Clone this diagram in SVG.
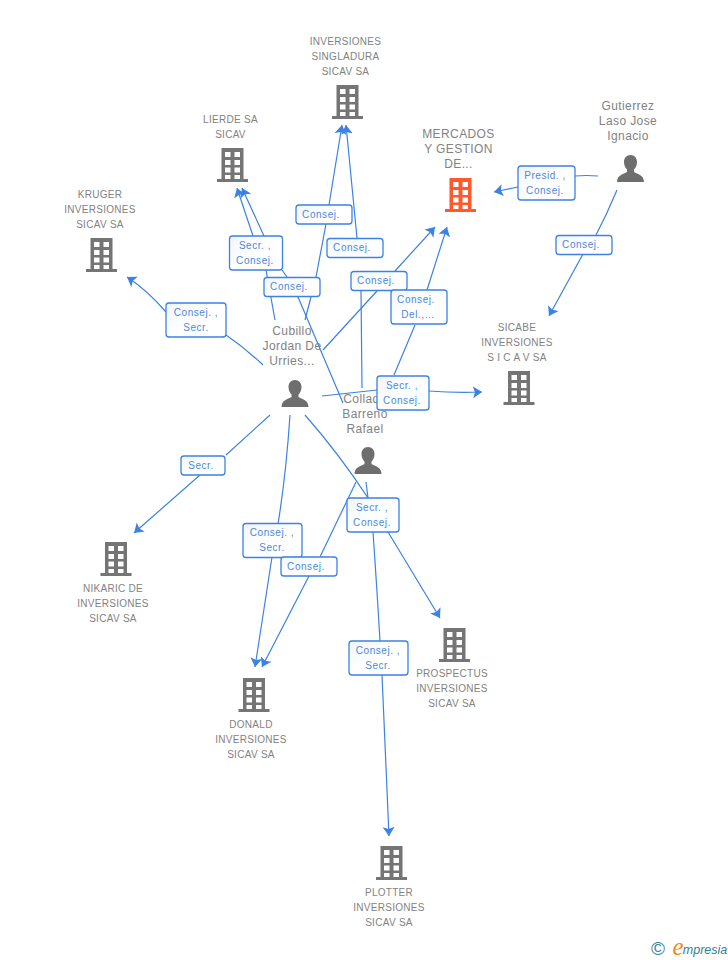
<svg xmlns="http://www.w3.org/2000/svg" width="728" height="960" viewBox="0 0 728 960">
<style>
text{font-family:"Liberation Sans",Arial,sans-serif;text-anchor:middle}
.n{font-size:10px;fill:#828282;letter-spacing:.28px}
.p{font-size:12px;fill:#828282;letter-spacing:.4px}
.l{font-size:10px;fill:#4a88de;letter-spacing:.55px}
.e{fill:none;stroke:#3b82e4;stroke-width:1.2;stroke-linejoin:round;marker-end:url(#arr)}
.b{fill:url(#g);stroke:#3b82e4;stroke-width:1.3}
</style>
<defs>
<linearGradient id="g" x1="0" y1="0" x2="1" y2="1"><stop offset="0" stop-color="#f2f4f8"/><stop offset=".5" stop-color="#fff"/><stop offset="1" stop-color="#fff"/></linearGradient>
<marker id="arr" markerUnits="userSpaceOnUse" markerWidth="14" markerHeight="14" refX="9" refY="6.500" orient="auto"><path d="M0,0.500L9,6.500L0,12.500L2,6.500Z" fill="#3b82e4"/></marker>
<path id="bd" fill-rule="evenodd" d="M-11,0H11V31H15.500V34H-15.500V31H-11ZM-7.500,4V9H-2V4ZM2,4V9H7.500V4ZM-7.500,12V17H-2V12ZM2,12V17H7.500V12ZM-7.500,19.500V24.500H-2V19.500ZM2,19.500V24.500H7.500V19.500ZM-7.500,27V31H-2V27ZM2,27V31H7.500V27Z"/>
<path id="pr" d="M0,0C4,0 6.500,3 6.500,7C6.500,10.500 5,13 3.500,14.500V17C7,19 13.500,20 13.500,27H-13.500C-13.500,20 -7,19 -3.500,17V14.500C-5,13 -6.500,10.500 -6.500,7C-6.500,3 -4,0 0,0Z"/>
</defs>
<g id="connectors">
<path class="e" d="M263,365Q245,348 226,335M166,312Q147,290 127,277"/>
<path class="e" d="M275,320L266,270M253,236L237,188"/>
<path class="e" d="M343,403L298,297M287,277L282,270M264,236L242,188"/>
<path class="e" d="M305,320L311,297M316,277L326,224M329,205L342,125"/>
<path class="e" d="M362,388L361,290M358,257L357,238M357,238L346,125"/>
<path class="e" d="M323,350L377,291M395,271L435,227"/>
<path class="e" d="M394,375L415,325M427,290L447,227"/>
<path class="e" d="M322,396L377,390M429,391Q455,393 482,392"/>
<path class="e" d="M598,176Q586,175 575,176M518,187L494,192"/>
<path class="e" d="M617,190Q607,214 596,235M583,254L549,316"/>
<path class="e" d="M270,415L226,455M200,475L134,533"/>
<path class="e" d="M290,415Q286,475 278,524M272,557L255,667"/>
<path class="e" d="M356,482L320,557M309,576L262,667"/>
<path class="e" d="M305,415Q340,455 368,498M388,532L440,618"/>
<path class="e" d="M366,482L368,498M373,532Q377,590 380,641M382,675L389,836"/>
</g>
<g id="n-singladura"><text class="n" x="345.500" y="45">INVERSIONES</text><text class="n" x="345.500" y="60">SINGLADURA</text><text class="n" x="345.500" y="75">SICAV SA</text><use href="#bd" x="347.500" y="85" fill="#757575"/></g>
<g id="n-lierde"><text class="n" x="230.500" y="123">LIERDE SA</text><text class="n" x="230.500" y="138">SICAV</text><use href="#bd" x="232.500" y="148" fill="#757575"/></g>
<g id="n-kruger"><text class="n" x="100" y="198">KRUGER</text><text class="n" x="100" y="213">INVERSIONES</text><text class="n" x="100" y="228">SICAV SA</text><use href="#bd" x="101.500" y="238" fill="#757575"/></g>
<g id="n-mercados"><text class="p" x="458.500" y="138">MERCADOS</text><text class="p" x="458.500" y="153">Y GESTION</text><text class="p" x="458.500" y="168">DE...</text><use href="#bd" x="460.500" y="178" fill="#ff5a2c"/></g>
<g id="n-gutierrez"><text class="p" x="628" y="110">Gutierrez</text><text class="p" x="628" y="125">Laso Jose</text><text class="p" x="628" y="140">Ignacio</text><use href="#pr" x="630.500" y="155" fill="#6e6e6e"/></g>
<g id="n-sicabe"><text class="n" x="517" y="331">SICABE</text><text class="n" x="517" y="346">INVERSIONES</text><text class="n" x="517" y="361">S I C A V SA</text><use href="#bd" x="519" y="371" fill="#757575"/></g>
<g id="n-cubillo"><text class="p" x="292" y="335">Cubillo</text><text class="p" x="292" y="350">Jordan De</text><text class="p" x="292" y="365">Urries...</text><use href="#pr" x="295" y="380" fill="#6e6e6e"/></g>
<g id="n-collado"><text class="p" x="365" y="403">Collado</text><text class="p" x="365" y="418">Barreno</text><text class="p" x="365" y="433">Rafael</text><use href="#pr" x="368" y="447" fill="#6e6e6e"/></g>
<g id="n-nikaric"><use href="#bd" x="116" y="542" fill="#757575"/><text class="n" x="113" y="592">NIKARIC DE</text><text class="n" x="113" y="607">INVERSIONES</text><text class="n" x="113" y="622">SICAV SA</text></g>
<g id="n-donald"><use href="#bd" x="254" y="678" fill="#757575"/><text class="n" x="251" y="728">DONALD</text><text class="n" x="251" y="743">INVERSIONES</text><text class="n" x="251" y="758">SICAV SA</text></g>
<g id="n-prospectus"><use href="#bd" x="454.500" y="628" fill="#757575"/><text class="n" x="452" y="677">PROSPECTUS</text><text class="n" x="452" y="692">INVERSIONES</text><text class="n" x="452" y="707">SICAV SA</text></g>
<g id="n-plotter"><use href="#bd" x="391.500" y="846" fill="#757575"/><text class="n" x="389" y="896">PLOTTER</text><text class="n" x="389" y="911">INVERSIONES</text><text class="n" x="389" y="926">SICAV SA</text></g>
<g id="edge-labels">
<g><rect class="b" x="166" y="303" width="60" height="34" rx="3"/><text class="l" x="196" y="316">Consej. ,</text><text class="l" x="196" y="331">Secr.</text></g>
<g><rect class="b" x="229.500" y="236" width="53" height="34" rx="3"/><text class="l" x="255" y="249">Secr. ,</text><text class="l" x="255" y="264">Consej.</text></g>
<g><rect class="b" x="296" y="205" width="56" height="19" rx="3"/><text class="l" x="321" y="218">Consej.</text></g>
<g><rect class="b" x="327" y="238.500" width="56" height="19" rx="3"/><text class="l" x="352" y="251">Consej.</text></g>
<g><rect class="b" x="264" y="277.500" width="56" height="19" rx="3"/><text class="l" x="289" y="290">Consej.</text></g>
<g><rect class="b" x="351" y="271.500" width="56" height="19" rx="3"/><text class="l" x="376" y="284">Consej.</text></g>
<g><rect class="b" x="391" y="290" width="56" height="34" rx="3"/><text class="l" x="416" y="303">Consej.</text><text class="l" x="418" y="318">Del.,...</text></g>
<g><rect class="b" x="377" y="376" width="52" height="34" rx="3"/><text class="l" x="402" y="389">Secr. ,</text><text class="l" x="402" y="404">Consej.</text></g>
<g><rect class="b" x="518" y="166" width="57" height="34" rx="3"/><text class="l" x="545" y="179">Presid. ,</text><text class="l" x="545" y="194">Consej.</text></g>
<g><rect class="b" x="556" y="235.500" width="56" height="19" rx="3"/><text class="l" x="581" y="248">Consej.</text></g>
<g><rect class="b" x="181" y="456" width="44" height="19" rx="3"/><text class="l" x="201" y="469">Secr.</text></g>
<g><rect class="b" x="243" y="523.500" width="59" height="34" rx="3"/><text class="l" x="272" y="536">Consej. ,</text><text class="l" x="272" y="551">Secr.</text></g>
<g><rect class="b" x="281" y="557" width="56" height="19" rx="3"/><text class="l" x="306" y="570">Consej.</text></g>
<g><rect class="b" x="347" y="498" width="52" height="34" rx="3"/><text class="l" x="372" y="511">Secr. ,</text><text class="l" x="372" y="526">Consej.</text></g>
<g><rect class="b" x="349" y="641" width="59" height="34" rx="3"/><text class="l" x="378" y="654">Consej. ,</text><text class="l" x="378" y="669">Secr.</text></g>
</g>
<g id="logo"><text x="658" y="955" style="font-size:19px;fill:#3d7f9c">©</text><text x="678" y="955" style="font-family:'Liberation Serif',serif;font-size:25px;font-style:italic;fill:#f28a1e">e</text><text x="705" y="954" style="font-family:'Liberation Sans',sans-serif;font-size:12.500px;font-style:italic;fill:#2c7f92">mpresia</text></g>
</svg>
